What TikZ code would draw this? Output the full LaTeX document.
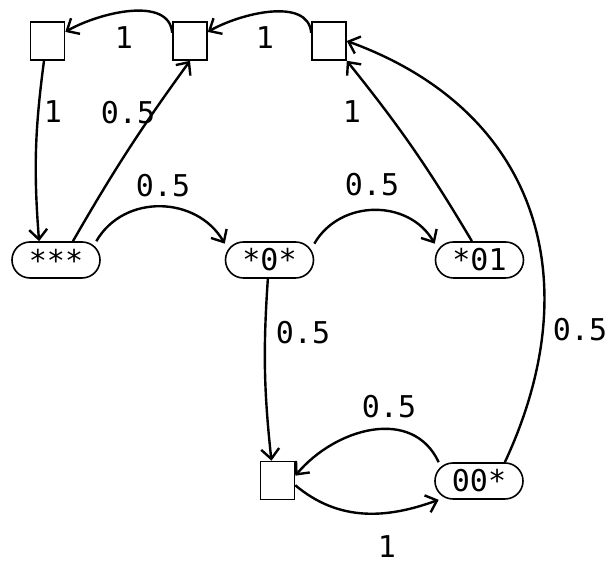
\documentclass[tikz,border=0pt]{standalone}
\usepackage{fontspec}
\setmonofont{DejaVu Sans Mono}
\usetikzlibrary{arrows.meta}
\begin{document}
\begin{tikzpicture}[x=0.5pt, y=-0.5pt,
    font=\ttfamily\fontsize{15}{17}\selectfont,
    box/.style={draw, line width=0.8pt, minimum width=17pt, minimum height=19pt, inner sep=0pt},
    state/.style={draw, line width=0.8pt, rounded corners=9pt, minimum width=44pt, minimum height=18pt, inner sep=0pt},
    edge/.style={line width=1.2pt, -{Straight Barb[length=5pt,width=9pt]}}]
    \useasboundingbox (0,0) rectangle (607,565);
    % Boxes
    \node[box] (b1) at (47.5,41) {};
    \node[box] (b2) at (190,41) {};
    \node[box] (b3) at (329,41) {};
    \node[box] (b4) at (277.5,480.5) {};
    % States
    \node[state] (sAAA) at (56,260) {***};
    \node[state] (s0)   at (269.5,260) {*0*};
    \node[state] (s01)  at (479.5,260) {*01};
    \node[state] (s00)  at (479,481) {00*};
    % Edges
    \draw[edge] (b2.155) to[out=95,in=30,looseness=0.9] (b1.27);
    \draw[edge] (b3.155) to[out=95,in=30,looseness=0.9] (b2.27);
    \draw[edge] (b1.-100) to[bend right=6] (sAAA.132);
    \draw[edge] (sAAA.48) to[bend left=3] (b2.south);
    \draw[edge] (sAAA.25) to[out=60,in=120,looseness=1.1] (s0.160);
    \draw[edge] (s0.20) to[out=60,in=120,looseness=1.1] (s01.160);
    \draw[edge] (s01.112) to[bend right=4] (b3.south east);
    \draw[edge] (s00.36) to[out=65,in=-20,looseness=1.15] (b3.east);
    \draw[edge] (s0.-95) to[bend right=5] (b4.107);
    \draw[edge] (s00.155) to[out=115,in=50,looseness=1.1] (b4.15);
    \draw[edge] (b4.-15) to[out=-40,in=200,looseness=1.0] (s00.205);
    % Labels
    \node (l1) at (124,38) {1};
    \node (l2) at (265,38) {1};
    \node (l3) at (53,112) {1};
    \node (l4) at (128,113) {0.5};
    \node (l5) at (352,112) {1};
    \node (l6) at (163,186) {0.5};
    \node (l7) at (372,185) {0.5};
    \node (l8) at (303,333) {0.5};
    \node (l9) at (580,330) {0.5};
    \node (l10) at (389,407) {0.5};
    \node (l11) at (387,547) {1};
\end{tikzpicture}
\end{document}
